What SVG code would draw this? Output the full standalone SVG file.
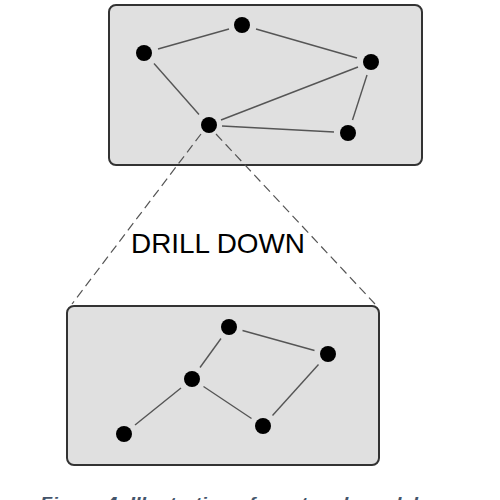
<svg xmlns="http://www.w3.org/2000/svg" width="500" height="500" viewBox="0 0 500 500">
<style>
.box{fill:#e0e0e0;stroke:#333;stroke-width:2}
.node{fill:#000}
.edge{stroke:#555;stroke-width:1.4;fill:none}
.dash{stroke:#555;stroke-width:1.2;stroke-dasharray:9 5;fill:none}
.lbl{font-family:"Liberation Sans",Arial,sans-serif;font-size:28px;fill:#000}
.cap{font-family:"Liberation Sans",Arial,sans-serif;font-size:17px;font-weight:bold;font-style:italic;fill:#44546a}
</style>
<rect width="500" height="500" fill="#fff"/>
<g id="top-panel"><rect class="box" x="109" y="5" width="313" height="160" rx="7"/></g>
<g id="bottom-panel"><rect class="box" x="67" y="306" width="312" height="159" rx="7"/></g>
<g id="connectors">
<line class="edge" x1="158" y1="49" x2="229" y2="29"/>
<line class="edge" x1="256" y1="29" x2="357" y2="58"/>
<line class="edge" x1="154" y1="63.5" x2="199" y2="114.5"/>
<line class="edge" x1="221" y1="120" x2="358" y2="67"/>
<line class="edge" x1="367" y1="75" x2="352.5" y2="120"/>
<line class="edge" x1="222" y1="126" x2="334" y2="132"/>
<line class="dash" x1="201" y1="134" x2="72" y2="304"/>
<line class="dash" x1="216" y1="134" x2="375" y2="304"/>
<line class="edge" x1="242.5" y1="330.5" x2="314.5" y2="350.5"/>
<line class="edge" x1="221" y1="338.5" x2="200" y2="367.5"/>
<line class="edge" x1="181" y1="388" x2="135" y2="425"/>
<line class="edge" x1="203.5" y1="386.5" x2="251.5" y2="418.5"/>
<line class="edge" x1="272.5" y1="415.5" x2="318.5" y2="364.5"/>
</g>
<g id="n1"><circle class="node" cx="242" cy="25" r="8"/></g>
<g id="n2"><circle class="node" cx="144" cy="53" r="8"/></g>
<g id="n3"><circle class="node" cx="371" cy="62" r="8"/></g>
<g id="n4"><circle class="node" cx="209" cy="125" r="8"/></g>
<g id="n5"><circle class="node" cx="348" cy="133" r="8"/></g>
<g id="m1"><circle class="node" cx="229" cy="327" r="8"/></g>
<g id="m2"><circle class="node" cx="328" cy="354" r="8"/></g>
<g id="m3"><circle class="node" cx="192" cy="379" r="8"/></g>
<g id="m4"><circle class="node" cx="124" cy="434" r="8"/></g>
<g id="m5"><circle class="node" cx="263" cy="426" r="8"/></g>
<g id="label"><text class="lbl" x="131" y="253" textLength="174" lengthAdjust="spacingAndGlyphs">DRILL DOWN</text></g>
<g id="caption"><text class="cap" x="40" y="509" textLength="378" lengthAdjust="spacingAndGlyphs">Figure 4: Illustration of a network model</text></g>
</svg>
